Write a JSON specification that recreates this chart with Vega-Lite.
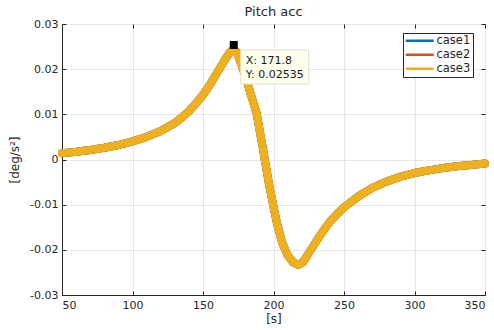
{
  "$schema": "https://vega.github.io/schema/vega-lite/v6.json",
  "width": 423,
  "height": 271,
  "autosize": "none",
  "padding": {"left": 62, "top": 24, "right": 9, "bottom": 35},
  "background": "white",
  "config": {
    "font": "DejaVu Sans",
    "view": {"stroke": "#262626", "strokeWidth": 1},
    "axis": {
      "grid": true,
      "gridColor": "#e6e6e6",
      "gridWidth": 1,
      "domainColor": "#262626",
      "tickColor": "#262626",
      "tickSize": -4,
      "labelFontSize": 11,
      "labelColor": "#262626",
      "titleFontSize": 12,
      "titleFontWeight": "normal",
      "titleColor": "#262626"
    }
  },
  "title": {"text": "Pitch acc", "fontSize": 13, "fontWeight": "normal", "color": "#262626", "offset": -1, "font": "DejaVu Sans"},
  "resolve": {"axis": {"x": "independent", "y": "independent"}},
  "datasets": {
    "curves": [
      {"x": 50, "y": 0.0014, "case": "case1"}, {"x": 60, "y": 0.0017, "case": "case1"}, {"x": 70, "y": 0.0021, "case": "case1"}, {"x": 80, "y": 0.0026, "case": "case1"}, {"x": 90, "y": 0.0032, "case": "case1"}, {"x": 100, "y": 0.004, "case": "case1"}, {"x": 110, "y": 0.005, "case": "case1"}, {"x": 120, "y": 0.0063, "case": "case1"}, {"x": 130, "y": 0.0081, "case": "case1"}, {"x": 135, "y": 0.0093, "case": "case1"}, {"x": 140, "y": 0.0107, "case": "case1"}, {"x": 145, "y": 0.0124, "case": "case1"}, {"x": 150, "y": 0.0143, "case": "case1"}, {"x": 155, "y": 0.0166, "case": "case1"}, {"x": 160, "y": 0.0192, "case": "case1"}, {"x": 165, "y": 0.0218, "case": "case1"}, {"x": 169, "y": 0.0237, "case": "case1"}, {"x": 171.5, "y": 0.0244, "case": "case1"}, {"x": 174, "y": 0.0238, "case": "case1"}, {"x": 177, "y": 0.0212, "case": "case1"}, {"x": 180, "y": 0.0185, "case": "case1"}, {"x": 184, "y": 0.0143, "case": "case1"}, {"x": 188, "y": 0.0103, "case": "case1"}, {"x": 192, "y": 0.0033, "case": "case1"}, {"x": 197, "y": -0.0058, "case": "case1"}, {"x": 202, "y": -0.0135, "case": "case1"}, {"x": 206, "y": -0.0183, "case": "case1"}, {"x": 210, "y": -0.0212, "case": "case1"}, {"x": 214, "y": -0.0228, "case": "case1"}, {"x": 217.5, "y": -0.0233, "case": "case1"}, {"x": 221, "y": -0.0227, "case": "case1"}, {"x": 225, "y": -0.0207, "case": "case1"}, {"x": 230, "y": -0.0183, "case": "case1"}, {"x": 235, "y": -0.0159, "case": "case1"}, {"x": 240, "y": -0.0138, "case": "case1"}, {"x": 245, "y": -0.0121, "case": "case1"}, {"x": 250, "y": -0.0106, "case": "case1"}, {"x": 260, "y": -0.0082, "case": "case1"}, {"x": 270, "y": -0.0063, "case": "case1"}, {"x": 280, "y": -0.0049, "case": "case1"}, {"x": 290, "y": -0.0038, "case": "case1"}, {"x": 300, "y": -0.003, "case": "case1"}, {"x": 310, "y": -0.0024, "case": "case1"}, {"x": 320, "y": -0.0019, "case": "case1"}, {"x": 330, "y": -0.0015, "case": "case1"}, {"x": 340, "y": -0.0012, "case": "case1"}, {"x": 350, "y": -0.0009, "case": "case1"},
      {"x": 50, "y": 0.0014, "case": "case2"}, {"x": 60, "y": 0.0017, "case": "case2"}, {"x": 70, "y": 0.0021, "case": "case2"}, {"x": 80, "y": 0.0026, "case": "case2"}, {"x": 90, "y": 0.0032, "case": "case2"}, {"x": 100, "y": 0.004, "case": "case2"}, {"x": 110, "y": 0.005, "case": "case2"}, {"x": 120, "y": 0.0063, "case": "case2"}, {"x": 130, "y": 0.0081, "case": "case2"}, {"x": 135, "y": 0.0093, "case": "case2"}, {"x": 140, "y": 0.0107, "case": "case2"}, {"x": 145, "y": 0.0124, "case": "case2"}, {"x": 150, "y": 0.0143, "case": "case2"}, {"x": 155, "y": 0.0166, "case": "case2"}, {"x": 160, "y": 0.0192, "case": "case2"}, {"x": 165, "y": 0.0218, "case": "case2"}, {"x": 169, "y": 0.0237, "case": "case2"}, {"x": 171.5, "y": 0.0244, "case": "case2"}, {"x": 174, "y": 0.0238, "case": "case2"}, {"x": 177, "y": 0.0212, "case": "case2"}, {"x": 180, "y": 0.0185, "case": "case2"}, {"x": 184, "y": 0.0143, "case": "case2"}, {"x": 188, "y": 0.0103, "case": "case2"}, {"x": 192, "y": 0.0033, "case": "case2"}, {"x": 197, "y": -0.0058, "case": "case2"}, {"x": 202, "y": -0.0135, "case": "case2"}, {"x": 206, "y": -0.0183, "case": "case2"}, {"x": 210, "y": -0.0212, "case": "case2"}, {"x": 214, "y": -0.0228, "case": "case2"}, {"x": 217.5, "y": -0.0233, "case": "case2"}, {"x": 221, "y": -0.0227, "case": "case2"}, {"x": 225, "y": -0.0207, "case": "case2"}, {"x": 230, "y": -0.0183, "case": "case2"}, {"x": 235, "y": -0.0159, "case": "case2"}, {"x": 240, "y": -0.0138, "case": "case2"}, {"x": 245, "y": -0.0121, "case": "case2"}, {"x": 250, "y": -0.0106, "case": "case2"}, {"x": 260, "y": -0.0082, "case": "case2"}, {"x": 270, "y": -0.0063, "case": "case2"}, {"x": 280, "y": -0.0049, "case": "case2"}, {"x": 290, "y": -0.0038, "case": "case2"}, {"x": 300, "y": -0.003, "case": "case2"}, {"x": 310, "y": -0.0024, "case": "case2"}, {"x": 320, "y": -0.0019, "case": "case2"}, {"x": 330, "y": -0.0015, "case": "case2"}, {"x": 340, "y": -0.0012, "case": "case2"}, {"x": 350, "y": -0.0009, "case": "case2"},
      {"x": 50, "y": 0.0014, "case": "case3"}, {"x": 60, "y": 0.0017, "case": "case3"}, {"x": 70, "y": 0.0021, "case": "case3"}, {"x": 80, "y": 0.0026, "case": "case3"}, {"x": 90, "y": 0.0032, "case": "case3"}, {"x": 100, "y": 0.004, "case": "case3"}, {"x": 110, "y": 0.005, "case": "case3"}, {"x": 120, "y": 0.0063, "case": "case3"}, {"x": 130, "y": 0.0081, "case": "case3"}, {"x": 135, "y": 0.0093, "case": "case3"}, {"x": 140, "y": 0.0107, "case": "case3"}, {"x": 145, "y": 0.0124, "case": "case3"}, {"x": 150, "y": 0.0143, "case": "case3"}, {"x": 155, "y": 0.0166, "case": "case3"}, {"x": 160, "y": 0.0192, "case": "case3"}, {"x": 165, "y": 0.0218, "case": "case3"}, {"x": 169, "y": 0.0237, "case": "case3"}, {"x": 171.5, "y": 0.0244, "case": "case3"}, {"x": 174, "y": 0.0238, "case": "case3"}, {"x": 177, "y": 0.0212, "case": "case3"}, {"x": 180, "y": 0.0185, "case": "case3"}, {"x": 184, "y": 0.0143, "case": "case3"}, {"x": 188, "y": 0.0103, "case": "case3"}, {"x": 192, "y": 0.0033, "case": "case3"}, {"x": 197, "y": -0.0058, "case": "case3"}, {"x": 202, "y": -0.0135, "case": "case3"}, {"x": 206, "y": -0.0183, "case": "case3"}, {"x": 210, "y": -0.0212, "case": "case3"}, {"x": 214, "y": -0.0228, "case": "case3"}, {"x": 217.5, "y": -0.0233, "case": "case3"}, {"x": 221, "y": -0.0227, "case": "case3"}, {"x": 225, "y": -0.0207, "case": "case3"}, {"x": 230, "y": -0.0183, "case": "case3"}, {"x": 235, "y": -0.0159, "case": "case3"}, {"x": 240, "y": -0.0138, "case": "case3"}, {"x": 245, "y": -0.0121, "case": "case3"}, {"x": 250, "y": -0.0106, "case": "case3"}, {"x": 260, "y": -0.0082, "case": "case3"}, {"x": 270, "y": -0.0063, "case": "case3"}, {"x": 280, "y": -0.0049, "case": "case3"}, {"x": 290, "y": -0.0038, "case": "case3"}, {"x": 300, "y": -0.003, "case": "case3"}, {"x": 310, "y": -0.0024, "case": "case3"}, {"x": 320, "y": -0.0019, "case": "case3"}, {"x": 330, "y": -0.0015, "case": "case3"}, {"x": 340, "y": -0.0012, "case": "case3"}, {"x": 350, "y": -0.0009, "case": "case3"}
    ],
    "tip": [{"x": 171.8, "y": 0.02535, "lx": "X: 171.8", "ly": "Y: 0.02535"}]
  },
  "layer": [
    {
      "data": {"name": "curves"},
      "mark": {"type": "line", "strokeWidth": 8, "strokeJoin": "round", "strokeCap": "round"},
      "encoding": {
        "x": {
          "field": "x", "type": "quantitative",
          "scale": {"domain": [50, 350], "nice": false, "zero": false},
          "axis": {"values": [50, 100, 150, 200, 250, 300, 350], "title": "[s]", "labelPadding": 8, "titlePadding": 3}
        },
        "y": {
          "field": "y", "type": "quantitative",
          "scale": {"domain": [-0.03, 0.03], "nice": false, "zero": false},
          "axis": {"values": [-0.03, -0.02, -0.01, 0, 0.01, 0.02, 0.03], "labelExpr": "'' + datum.value", "title": "[deg/s²]", "labelPadding": 8, "titlePadding": 8}
        },
        "color": {
          "field": "case", "type": "nominal",
          "scale": {"domain": ["case1", "case2", "case3"], "range": ["#0072BD", "#D95319", "#EDB120"]},
          "legend": {
            "orient": "none", "legendX": 341, "legendY": 9, "title": null,
            "symbolType": "M-4,0H4", "symbolSize": 49, "symbolStrokeWidth": 2.5, "symbolOffset": 9,
            "labelFontSize": 11.5, "labelColor": "#262626", "labelOffset": 11,
            "strokeColor": "#262626", "fillColor": "white", "padding": 2, "rowPadding": 1
          }
        }
      }
    },
    {
      "data": {"name": "tip"},
      "mark": {"type": "rect", "width": 68, "height": 34, "xOffset": 41, "yOffset": 22, "fill": "#FFFFEE", "stroke": "#e0e0d0", "strokeWidth": 1},
      "encoding": {
        "x": {"field": "x", "type": "quantitative", "axis": {"orient": "top", "values": [50, 100, 150, 200, 250, 300, 350], "labels": false, "grid": false, "domain": false, "title": null}},
        "y": {"field": "y", "type": "quantitative", "axis": {"orient": "right", "values": [-0.03, -0.02, -0.01, 0, 0.01, 0.02, 0.03], "labels": false, "grid": false, "domain": false, "title": null}}
      }
    },
    {
      "data": {"name": "tip"},
      "mark": {"type": "point", "shape": "square", "size": 64, "filled": true, "color": "black", "opacity": 1},
      "encoding": {"x": {"field": "x", "type": "quantitative", "axis": null}, "y": {"field": "y", "type": "quantitative", "axis": null}}
    },
    {
      "data": {"name": "tip"},
      "mark": {"type": "text", "align": "left", "baseline": "middle", "dx": 12, "dy": 16, "fontSize": 11, "color": "#1a1a1a"},
      "encoding": {"x": {"field": "x", "type": "quantitative", "axis": null}, "y": {"field": "y", "type": "quantitative", "axis": null}, "text": {"field": "lx"}}
    },
    {
      "data": {"name": "tip"},
      "mark": {"type": "text", "align": "left", "baseline": "middle", "dx": 12, "dy": 30, "fontSize": 11, "color": "#1a1a1a"},
      "encoding": {"x": {"field": "x", "type": "quantitative", "axis": null}, "y": {"field": "y", "type": "quantitative", "axis": null}, "text": {"field": "ly"}}
    }
  ]
}
